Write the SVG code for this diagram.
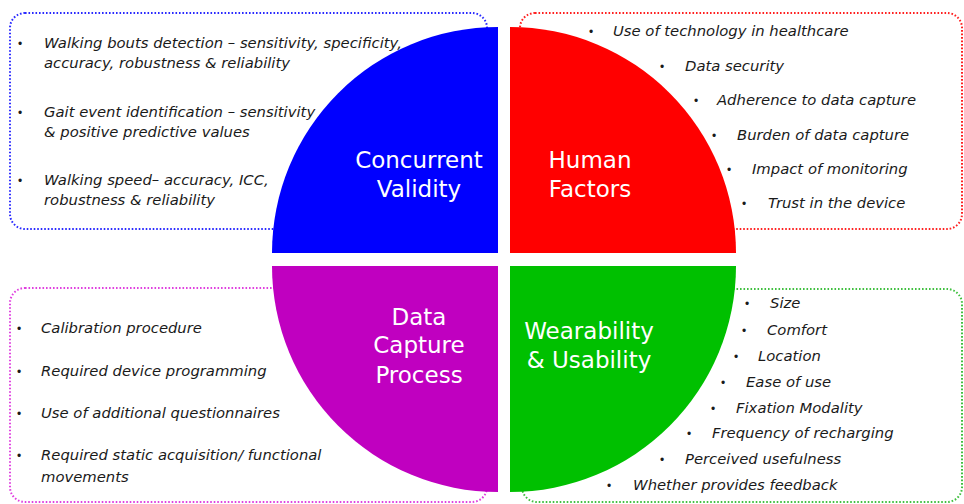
<svg xmlns="http://www.w3.org/2000/svg" width="964" height="504" viewBox="0 0 964 504">
<style>
.box{fill:none;stroke-width:2;stroke-dasharray:1.6 1.9}
.it{font-family:"DejaVu Sans",Verdana,sans-serif;font-style:italic;font-size:14.8px;fill:#1a1a1a}
.bu{font-family:"Liberation Sans",Arial,sans-serif;font-size:12px;fill:#1a1a1a}
.lbl{font-family:"DejaVu Sans",Verdana,sans-serif;font-size:23px;fill:#fff;text-anchor:middle}
</style>
<rect width="964" height="504" fill="#fff"/>
<g id="concurrent-validity">
<rect class="box" x="10" y="13" width="477" height="216" rx="15" stroke="#2a2aff"/>
<path d="M498,253 L272,253 A226,226 0 0 1 498,27 Z" fill="#0000ff"/>
<text class="lbl" x="419" y="168">Concurrent</text>
<text class="lbl" x="419" y="197">Validity</text>
<text class="bu" x="18" y="48">•</text><text class="it" x="44" y="48">Walking bouts detection – sensitivity, specificity,</text>
<text class="it" x="44" y="68">accuracy, robustness &amp; reliability</text>
<text class="bu" x="18" y="117">•</text><text class="it" x="44" y="117">Gait event identification – sensitivity</text>
<text class="it" x="44" y="137">&amp; positive predictive values</text>
<text class="bu" x="18" y="185">•</text><text class="it" x="44" y="185">Walking speed– accuracy, ICC,</text>
<text class="it" x="44" y="205">robustness &amp; reliability</text>
</g>
<g id="human-factors">
<rect class="box" x="520" y="13" width="442" height="216" rx="15" stroke="#ff2020"/>
<path d="M510,253 L510,27 A226,226 0 0 1 736,253 Z" fill="#ff0000"/>
<text class="lbl" x="590" y="168">Human</text>
<text class="lbl" x="590" y="197">Factors</text>
<text class="bu" x="589" y="36">•</text><text class="it" x="613" y="36">Use of technology in healthcare</text>
<text class="bu" x="660" y="71">•</text><text class="it" x="685" y="71">Data security</text>
<text class="bu" x="694" y="105">•</text><text class="it" x="717" y="105">Adherence to data capture</text>
<text class="bu" x="712" y="140">•</text><text class="it" x="737" y="140">Burden of data capture</text>
<text class="bu" x="727" y="174">•</text><text class="it" x="752" y="174">Impact of monitoring</text>
<text class="bu" x="742" y="208">•</text><text class="it" x="768" y="208">Trust in the device</text>
</g>
<g id="data-capture-process">
<rect class="box" x="10" y="288" width="477" height="214" rx="15" stroke="#e040e0"/>
<path d="M498,266 L498,492 A226,226 0 0 1 272,266 Z" fill="#c000c0"/>
<text class="lbl" x="419" y="325">Data</text>
<text class="lbl" x="419" y="353">Capture</text>
<text class="lbl" x="419" y="383">Process</text>
<text class="bu" x="17" y="333">•</text><text class="it" x="41" y="333">Calibration procedure</text>
<text class="bu" x="17" y="376">•</text><text class="it" x="41" y="376">Required device programming</text>
<text class="bu" x="17" y="418">•</text><text class="it" x="41" y="418">Use of additional questionnaires</text>
<text class="bu" x="17" y="460">•</text><text class="it" x="41" y="460">Required static acquisition/ functional</text>
<text class="it" x="41" y="482">movements</text>
</g>
<g id="wearability-usability">
<rect class="box" x="522" y="289" width="440" height="213" rx="15" stroke="#40c040"/>
<path d="M510,266 L736,266 A226,226 0 0 1 510,492 Z" fill="#00c000"/>
<text class="lbl" x="589" y="339">Wearability</text>
<text class="lbl" x="589" y="368">&amp; Usability</text>
<text class="bu" x="745" y="308">•</text><text class="it" x="770" y="308">Size</text>
<text class="bu" x="742" y="335">•</text><text class="it" x="767" y="335">Comfort</text>
<text class="bu" x="734" y="361">•</text><text class="it" x="758" y="361">Location</text>
<text class="bu" x="721" y="387">•</text><text class="it" x="746" y="387">Ease of use</text>
<text class="bu" x="711" y="413">•</text><text class="it" x="736" y="413">Fixation Modality</text>
<text class="bu" x="687" y="438">•</text><text class="it" x="712" y="438">Frequency of recharging</text>
<text class="bu" x="660" y="464">•</text><text class="it" x="685" y="464">Perceived usefulness</text>
<text class="bu" x="607" y="490">•</text><text class="it" x="633" y="490">Whether provides feedback</text>
</g>
</svg>
